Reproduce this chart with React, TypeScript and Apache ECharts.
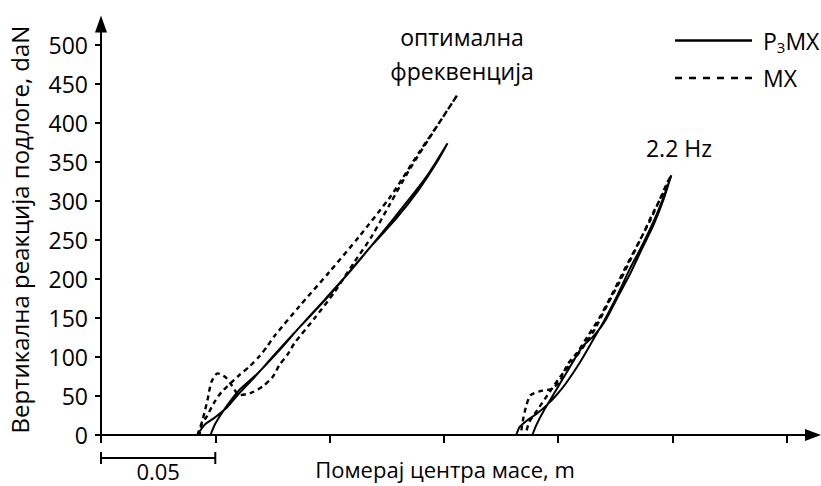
import React, { useEffect, useRef } from "react";
import * as echarts from "echarts";

const FONT = '"Open Sans", "Noto Sans", sans-serif';
const FS = 23;

// axis ticks
const yTicks = [0, 50, 100, 150, 200, 250, 300, 350, 400, 450, 500];
const xTicks = [0, 0.05, 0.1, 0.15, 0.2, 0.25, 0.3];

const xName = "Померај центра масе, m";
const yName = "Вертикална реакција подлоге, daN";
const scaleBarLabel = "0.05";
const scaleBarValue = 0.05;
const noteOptimal = "оптимална\nфреквенција";
const note22 = "2.2 Hz";

const nameP3MX = "P3MX";
const nameMX = "MX";

// displacement (m), vertical reaction (daN)
const p3mxOptimal: [number, number][] = [
  [0.0422, 0], [0.0453, 13], [0.0496, 22], [0.0553, 36], [0.0597, 51], [0.0671, 74],
  [0.0759, 103], [0.0868, 138], [0.0999, 179], [0.1109, 217], [0.1218, 255],
  [0.1328, 295], [0.1428, 333], [0.1516, 374],
  [0.1468, 349], [0.1389, 314], [0.1293, 278], [0.1188, 244], [0.1087, 209],
  [0.0977, 173], [0.0868, 138], [0.0772, 106], [0.0685, 79], [0.0606, 58],
  [0.0545, 35], [0.0501, 15], [0.0479, 0],
];

const mxOptimal: [number, number][] = [
  [0.0422, 0], [0.0444, 19], [0.0466, 45], [0.0483, 68], [0.0510, 79], [0.0545, 74],
  [0.0571, 64], [0.0606, 51], [0.0656, 54], [0.0706, 62], [0.0750, 74], [0.0781, 90],
  [0.0816, 103], [0.0847, 118], [0.0935, 150], [0.1021, 183], [0.1109, 222],
  [0.1183, 254], [0.1262, 295], [0.1349, 340], [0.1459, 391], [0.1559, 436],
  [0.1481, 401], [0.1393, 363], [0.1319, 329], [0.1262, 304], [0.1131, 255],
  [0.0999, 209], [0.0868, 165], [0.0759, 127], [0.0728, 114], [0.0693, 101],
  [0.0650, 88], [0.0606, 77], [0.0527, 55], [0.0496, 42], [0.0461, 23],
  [0.0440, 13], [0.0431, 0],
];

const p3mx22: [number, number][] = [
  [0.1817, 0], [0.1831, 10], [0.1861, 18], [0.1905, 27], [0.1949, 38], [0.1992, 51],
  [0.2036, 67], [0.2093, 92], [0.2145, 118], [0.2202, 147], [0.2259, 179],
  [0.2312, 212], [0.2369, 244], [0.2421, 276], [0.2465, 308], [0.2495, 333],
  [0.2460, 301], [0.2417, 269], [0.2364, 237], [0.2312, 205], [0.2259, 176],
  [0.2207, 147], [0.2159, 128], [0.2106, 113], [0.2049, 86], [0.1992, 58],
  [0.1931, 28], [0.1905, 13], [0.1887, 0],
];

const mx22: [number, number][] = [
  [0.1839, 6], [0.1848, 22], [0.1861, 38], [0.1879, 51], [0.1918, 56], [0.1970, 59],
  [0.2005, 68], [0.2040, 90], [0.2084, 106], [0.2128, 126], [0.2180, 150],
  [0.2233, 179], [0.2290, 212], [0.2347, 244], [0.2399, 273], [0.2443, 301],
  [0.2478, 324], [0.2495, 333],
  [0.2460, 310], [0.2417, 286], [0.2369, 256], [0.2320, 227], [0.2268, 196],
  [0.2215, 167], [0.2163, 137], [0.2115, 115], [0.2062, 94], [0.2005, 73],
  [0.1953, 51], [0.1909, 32], [0.1874, 17], [0.1857, 0],
];

const solidStyle = { color: "#000", width: 2, type: "solid" as const };
const dashStyle = { color: "#000", width: 2.4, type: [5, 4] as any };

const solidIcon = "path://M0,0H77V2.4H0Z";
const dashIcon =
  "path://M0,0H7V2.4H0Z M14,0H21V2.4H14Z M28,0H35V2.4H28Z M42,0H49V2.4H42Z M56,0H63V2.4H56Z M70,0H77V2.4H70Z";

export default function App() {
  const ref = useRef<HTMLDivElement>(null);

  useEffect(() => {
    if (!ref.current) return;
    const chart = echarts.init(ref.current, undefined, { renderer: "svg" });

    const mkSeries = (name: string, data: [number, number][], ls: any) => ({
      type: "line",
      name,
      data,
      symbol: "none",
      showSymbol: false,
      smooth: 0.25,
      silent: true,
      lineStyle: ls,
      itemStyle: { color: "#000" },
    });

    chart.setOption({
      animation: false,
      textStyle: { fontFamily: FONT, color: "#000" },
      grid: {
        left: 101,
        right: 8,
        top: 24,
        bottom: 51,
        containLabel: false,
        outerBoundsMode: "none",
      },
      legend: {
        orient: "vertical",
        left: 675,
        top: 29,
        padding: 0,
        itemWidth: 77,
        itemHeight: 2.4,
        itemGap: 12,
        data: [
          { name: nameP3MX, icon: solidIcon, itemStyle: { color: "#000" } },
          { name: nameMX, icon: dashIcon, itemStyle: { color: "#000" } },
        ],
        formatter: (n: string) =>
          n === nameP3MX ? "{a|P}{s|3}{n|MX}" : "{a|MX}",
        textStyle: {
          color: "#000",
          fontFamily: FONT,
          fontSize: FS,
          rich: {
            a: { fontSize: FS, fontFamily: FONT, color: "#000", padding: [0, 0, 0, 6], lineHeight: 24 },
            n: { fontSize: FS, fontFamily: FONT, color: "#000", lineHeight: 24 },
            s: { fontSize: 15, fontFamily: FONT, color: "#000", padding: [13, 0, 0, 0] },
          },
        },
      },
      xAxis: {
        type: "value",
        min: 0,
        max: 0.3115,
        name: xName,
        nameLocation: "middle",
        nameGap: 23,
        nameTextStyle: {
          fontSize: 22,
          color: "#000",
          fontFamily: FONT,
          lineHeight: 22,
          padding: [0, 24, 0, 0],
        },
        axisLine: {
          show: true,
          onZero: false,
          symbol: ["none", "triangle"],
          symbolSize: [12, 16],
          lineStyle: { color: "#000", width: 2 },
        },
        axisTick: {
          show: true,
          length: 8,
          customValues: xTicks,
          lineStyle: { color: "#000", width: 2 },
        },
        axisLabel: { show: false },
        splitLine: { show: false },
      },
      yAxis: {
        type: "value",
        min: 0,
        max: 527,
        name: yName,
        nameLocation: "middle",
        nameGap: 70,
        nameTextStyle: { fontSize: 24, color: "#000", fontFamily: FONT },
        axisLine: {
          show: true,
          onZero: false,
          symbol: ["none", "triangle"],
          symbolSize: [12, 17],
          lineStyle: { color: "#000", width: 2 },
        },
        axisTick: {
          show: true,
          length: 6,
          customValues: yTicks,
          lineStyle: { color: "#000", width: 2 },
        },
        axisLabel: {
          customValues: yTicks,
          fontSize: FS,
          color: "#000",
          fontFamily: FONT,
          margin: 13,
        },
        splitLine: { show: false },
      },
      series: [
        mkSeries(nameP3MX, p3mxOptimal, solidStyle),
        mkSeries(nameP3MX, p3mx22, solidStyle),
        mkSeries(nameMX, mxOptimal, dashStyle),
        mkSeries(nameMX, mx22, dashStyle),
      ],
    });

    const x0 = chart.convertToPixel({ xAxisIndex: 0 }, 0) as number;
    const x1 = chart.convertToPixel({ xAxisIndex: 0 }, scaleBarValue) as number;
    const yb = 458;

    chart.setOption({
      graphic: [
        { type: "line", shape: { x1: x0, y1: yb, x2: x1, y2: yb }, style: { stroke: "#000", lineWidth: 2 } },
        { type: "line", shape: { x1: x0, y1: yb - 6, x2: x0, y2: yb + 6 }, style: { stroke: "#000", lineWidth: 2 } },
        { type: "line", shape: { x1: x1, y1: yb - 6, x2: x1, y2: yb + 6 }, style: { stroke: "#000", lineWidth: 2 } },
        {
          type: "text",
          x: (x0 + x1) / 2,
          y: 471,
          style: {
            text: scaleBarLabel,
            fill: "#000",
            font: `22px ${FONT}`,
            align: "center",
            verticalAlign: "middle",
            lineHeight: 22,
          },
        },
        {
          type: "text",
          x: 462,
          y: 54,
          style: {
            text: noteOptimal,
            fill: "#000",
            font: `${FS}px ${FONT}`,
            align: "center",
            verticalAlign: "middle",
            lineHeight: 34,
          },
        },
        {
          type: "text",
          x: 679,
          y: 148,
          style: { text: note22, fill: "#000", font: `${FS}px ${FONT}`, align: "center", verticalAlign: "middle" },
        },
      ],
    });

    return () => chart.dispose();
  }, []);

  return (
    <div
      ref={ref}
      style={{ position: "fixed", left: 0, top: 0, width: 821, height: 486, background: "#fff" }}
    />
  );
}
